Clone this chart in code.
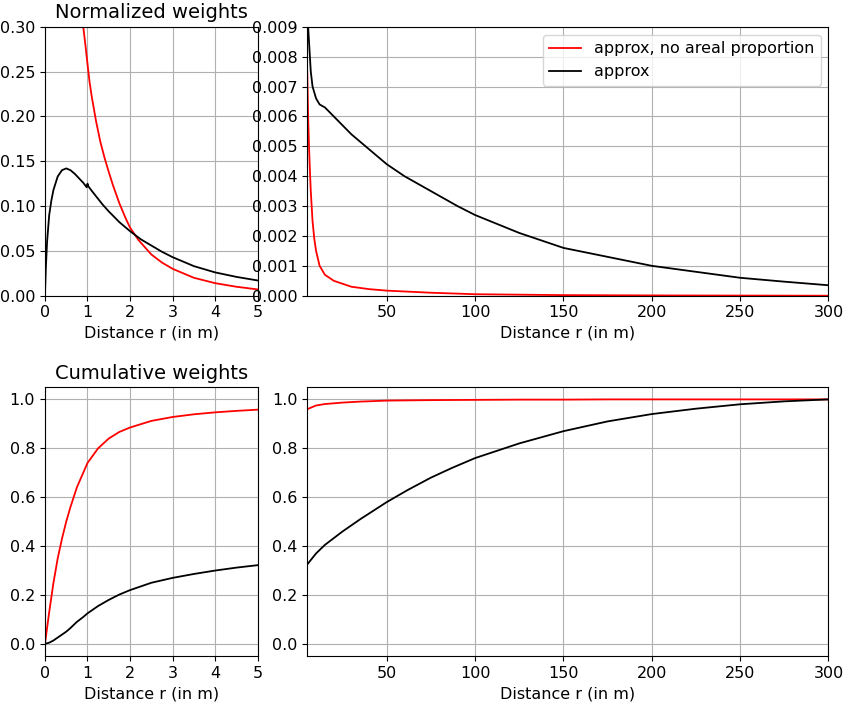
import numpy as np, pandas as pd, seaborn as sns
import matplotlib
matplotlib.use("Agg")
import matplotlib.pyplot as plt

# Normalized weights, small r
r_nl_red = [0.9, 0.95, 1.0, 1.0, 1.05, 1.1, 1.2, 1.3, 1.4, 1.5, 1.6, 1.75, 1.9, 2.0, 2.2, 2.5, 2.75, 3.0, 3.5, 4.0, 4.5, 5.0]
w_nl_red = [0.30, 0.28, 0.262, 0.255, 0.238, 0.222, 0.195, 0.172, 0.154, 0.138, 0.123, 0.103, 0.086, 0.076, 0.062, 0.046, 0.037, 0.03, 0.02, 0.014, 0.01, 0.007]
r_nl_blk = [0, 0.02, 0.05, 0.1, 0.15, 0.2, 0.3, 0.4, 0.5, 0.6, 0.7, 0.8, 0.9, 0.98, 1.0, 1.02, 1.1, 1.2, 1.35, 1.5, 1.75, 2.0, 2.25, 2.5, 2.75, 3.0, 3.5, 4.0, 4.5, 5.0]
w_nl_blk = [0, 0.03, 0.06, 0.09, 0.106, 0.118, 0.133, 0.14, 0.142, 0.14, 0.136, 0.131, 0.126, 0.121, 0.125, 0.122, 0.117, 0.111, 0.102, 0.094, 0.082, 0.072, 0.063, 0.056, 0.049, 0.043, 0.033, 0.026, 0.021, 0.017]
# Normalized weights, large r
r_nr_red = [5, 5.5, 6, 6.5, 7, 8, 9, 10, 12, 15, 20, 25, 30, 40, 50, 75, 100, 150, 200, 300]
w_nr_red = [0.0075, 0.006, 0.005, 0.0042, 0.0035, 0.0025, 0.0019, 0.0015, 0.001, 0.0007, 0.0005, 0.0004, 0.0003, 0.00022, 0.00017, 0.0001, 0.00005, 0.00002, 0.00001, 0.0]
r_nr_blk = [5, 6, 7, 8, 10, 12, 15, 20, 25, 30, 40, 50, 60, 75, 90, 100, 125, 150, 175, 200, 225, 250, 275, 300]
w_nr_blk = [0.0095, 0.0085, 0.0075, 0.007, 0.0066, 0.0064, 0.0063, 0.006, 0.0057, 0.0054, 0.0049, 0.0044, 0.0040, 0.0035, 0.0030, 0.0027, 0.0021, 0.0016, 0.0013, 0.001, 0.0008, 0.0006, 0.00047, 0.00035]
# Cumulative weights, small r
r_cl = [0, 0.1, 0.2, 0.3, 0.4, 0.5, 0.6, 0.75, 0.9, 1.0, 1.25, 1.5, 1.75, 2.0, 2.5, 3.0, 3.5, 4.0, 4.5, 5.0]
c_cl_red = [0, 0.13, 0.25, 0.35, 0.43, 0.5, 0.56, 0.64, 0.7, 0.74, 0.8, 0.84, 0.867, 0.885, 0.912, 0.928, 0.939, 0.947, 0.953, 0.958]
c_cl_blk = [0, 0.005, 0.014, 0.026, 0.038, 0.05, 0.065, 0.09, 0.11, 0.125, 0.155, 0.18, 0.202, 0.22, 0.25, 0.27, 0.286, 0.3, 0.312, 0.322]
# Cumulative weights, large r
r_cr = [5, 10, 15, 25, 35, 50, 62, 75, 87, 100, 125, 150, 175, 200, 225, 250, 275, 300]
c_cr_red = [0.96, 0.975, 0.981, 0.987, 0.991, 0.995, 0.996, 0.997, 0.9975, 0.998, 0.999, 0.999, 1.0, 1.0, 1.0, 1.0, 1.0, 1.0]
c_cr_blk = [0.325, 0.37, 0.405, 0.46, 0.51, 0.58, 0.63, 0.68, 0.72, 0.76, 0.82, 0.87, 0.91, 0.94, 0.962, 0.98, 0.992, 1.0]

plt.rcParams['font.size'] = 11.5
fig, axes = plt.subplots(2, 2, figsize=(8.48, 7.04), dpi=100,
                         gridspec_kw=dict(width_ratios=[1, 2.45]))
fig.subplots_adjust(left=0.053, right=0.977, top=0.962, bottom=0.068, wspace=0.135, hspace=0.34)

def draw(ax, xr, yr, xb, yb, lbl=False):
    sns.lineplot(x=xr, y=yr, color='red', ax=ax, label='approx, no areal proportion' if lbl else None, sort=False, lw=1.3)
    sns.lineplot(x=xb, y=yb, color='black', ax=ax, label='approx' if lbl else None, sort=False, lw=1.3)
    ax.grid(True, color='#b0b0b0', lw=0.8)
    ax.set_xlabel('Distance r (in m)')
    ax.set_ylabel('')

draw(axes[0,0], r_nl_red, w_nl_red, r_nl_blk, w_nl_blk)
axes[0,0].set_xlim(0, 5); axes[0,0].set_ylim(0, 0.3)
axes[0,0].set_title('Normalized weights', fontsize=14)
draw(axes[0,1], r_nr_red, w_nr_red, r_nr_blk, w_nr_blk, lbl=True)
axes[0,1].set_xlim(5, 300); axes[0,1].set_ylim(0, 0.009)
axes[0,1].set_yticks([i * 0.001 for i in range(10)])
axes[0,1].set_yticklabels([f'{i*0.001:.3f}' for i in range(10)])
axes[0,1].legend(loc='upper right')
draw(axes[1,0], r_cl, c_cl_red, r_cl, c_cl_blk)
axes[1,0].set_xlim(0, 5); axes[1,0].set_ylim(-0.05, 1.05)
axes[1,0].set_title('Cumulative weights', fontsize=14)
draw(axes[1,1], r_cr, c_cr_red, r_cr, c_cr_blk)
axes[1,1].set_xlim(5, 300); axes[1,1].set_ylim(-0.05, 1.05)
for ax in axes[:, 1]:
    ax.set_xticks([50, 100, 150, 200, 250, 300])
for ax in axes[:, 0]:
    ax.set_xticks(range(6))
fig.savefig('out.png')
